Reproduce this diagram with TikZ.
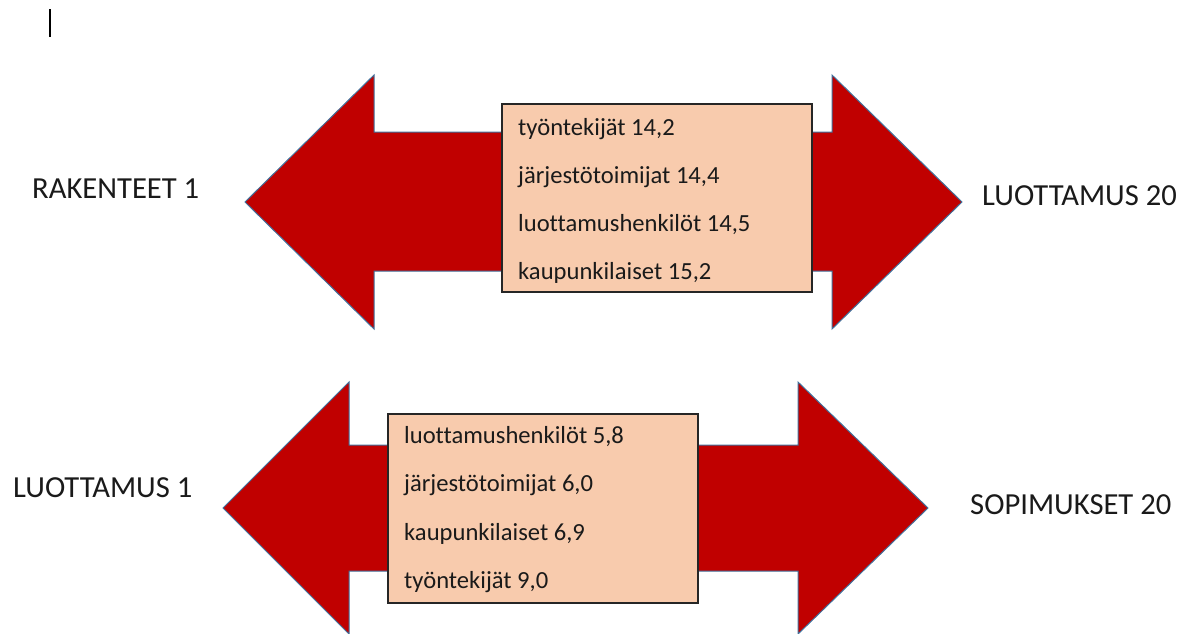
\documentclass[tikz,border=0pt]{standalone}
\usepackage{fontspec}
\setmainfont[Ligatures={NoCommon}]{Carlito}
\begin{document}
\begin{tikzpicture}[x=1pt,y=-1pt,
  arrowshape/.style={fill=arrowred,draw=arrowedge,line width=1pt,line join=miter},
  valuebox/.style={draw=boxedge,fill=boxfill,line width=1.5pt,minimum width=310pt,inner sep=0pt},
  itemtext/.style={anchor=base west,inner sep=0pt,text=textcol,font=\fontsize{24.6}{28}\selectfont},
  labeltext/.style={anchor=base west,inner sep=0pt,text=textcol,font=\fontsize{30.6}{36}\selectfont}]
\definecolor{arrowred}{HTML}{C00000}
\definecolor{arrowedge}{HTML}{41719C}
\definecolor{boxfill}{HTML}{F8CBAD}
\definecolor{boxedge}{HTML}{262626}
\definecolor{textcol}{HTML}{1A1A1A}
\useasboundingbox (0,0) rectangle (1192,633);
% cursor
\coordinate (c1) at (50,9);
\coordinate (c2) at (50,37);
\draw[line width=1.5pt,black] (c1) -- (c2);
% top double arrow
\draw[arrowshape] (245,202) -- (374,75) -- (374,132) -- (832,132) -- (832,75) -- (962,202)
  -- (832,329) -- (832,271) -- (374,271) -- (374,329) -- cycle;
\node[valuebox,minimum height=188pt] (box1) at (657,198) {};
\node[itemtext] (t1a) at (518,135) {työntekijät 14,2};
\node[itemtext] (t1b) at (518,183) {järjestötoimijat 14,4};
\node[itemtext] (t1c) at (518,231) {luottamushenkilöt 14,5};
\node[itemtext] (t1d) at (518,279) {kaupunkilaiset 15,2};
\node[labeltext] (l1) at (32,198) {RAKENTEET 1};
\node[labeltext] (r1) at (982,205) {LUOTTAMUS 20};
% bottom double arrow
\draw[arrowshape] (223,508) -- (349,382) -- (349,445) -- (798,445) -- (798,382) -- (928,508)
  -- (798,634) -- (798,571) -- (349,571) -- (349,634) -- cycle;
\node[valuebox,minimum height=189pt] (box2) at (543,508.5) {};
\node[itemtext] (t2a) at (404,443) {luottamushenkilöt 5,8};
\node[itemtext] (t2b) at (404,491) {järjestötoimijat 6,0};
\node[itemtext] (t2c) at (404,540) {kaupunkilaiset 6,9};
\node[itemtext] (t2d) at (404,588) {työntekijät 9,0};
\node[labeltext] (l2) at (13,497) {LUOTTAMUS 1};
\node[labeltext] (r2) at (970,514) {SOPIMUKSET 20};
\end{tikzpicture}
\end{document}
